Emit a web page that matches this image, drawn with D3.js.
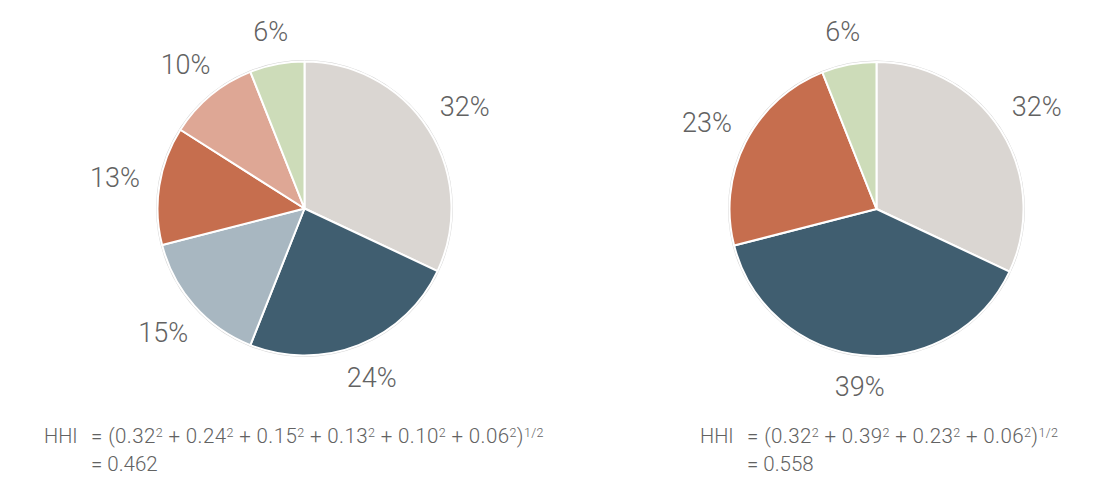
<!DOCTYPE html>
<html>
<head>
<meta charset="utf-8">
<script src="https://cdn.jsdelivr.net/npm/d3@7"></script>
<style>
  html, body { margin: 0; padding: 0; background: #ffffff; }
  svg { display: block; }
  text { font-family: Roboto, "Noto Sans", sans-serif; fill: #626262; }
</style>
</head>
<body>
<svg id="chart" width="1106" height="490"></svg>
<script>
// ---- data ----
const leftCategories = ["A", "B", "C", "D", "E", "F"];
const leftValues = [0.32, 0.24, 0.15, 0.13, 0.10, 0.06];
const leftColors = ["#dad6d2", "#405e70", "#a8b7c1", "#c66e4e", "#dea795", "#cddcb9"];
const leftResult = "0.462";

const rightCategories = ["A", "B", "D", "F"];
const rightValues = [0.32, 0.39, 0.23, 0.06];
const rightColors = ["#dad6d2", "#405e70", "#c66e4e", "#cddcb9"];
const rightResult = "0.558";

const svg = d3.select("#chart");
const R = 147;

function drawPie(cx, cy, values, colors, categories, resultText, textX) {
  const g = svg.append("g").attr("transform", `translate(${cx},${cy})`);
  const pie = d3.pie().sort(null).value(d => d);
  const arcs = pie(values);
  const arc = d3.arc().innerRadius(0).outerRadius(R);

  g.append("circle").attr("r", R + 0.8).attr("fill", "none")
    .attr("stroke", "#d4d4d4").attr("stroke-width", 1.2);

  g.selectAll("path.slice").data(arcs).enter().append("path")
    .attr("class", "slice")
    .attr("d", arc)
    .attr("fill", (d, i) => colors[i])
    .attr("stroke", "#ffffff")
    .attr("stroke-width", 2)
    .attr("stroke-linejoin", "round");

  const fmt = d3.format(".0%");
  g.selectAll("text.lbl").data(arcs).enter().append("text")
    .attr("class", "lbl")
    .attr("text-anchor", "middle")
    .attr("dominant-baseline", "central")
    .style("font-size", "27px")
    .style("font-weight", 300)
    .attr("transform", d => {
      const a = (d.startAngle + d.endAngle) / 2;
      const r = 177 + 15 * Math.abs(Math.sin(a));
      return `translate(${r * Math.sin(a)},${-r * Math.cos(a)})`;
    })
    .text(d => fmt(d.data));

  // formula
  const y1 = cy + 234, y2 = y1 + 28;
  const ft = svg.append("g");
  ft.append("text").attr("x", textX).attr("y", y1)
    .style("font-size", "20px").style("font-weight", 300).text("HHI");
  const t = ft.append("text").attr("x", textX + 47).attr("y", y1)
    .style("font-size", "20.5px").style("font-weight", 300)
    .style("letter-spacing", "0.4px");
  t.append("tspan").text("= (");
  values.forEach((v, i) => {
    t.append("tspan").text(v.toFixed(2));
    t.append("tspan").attr("dy", -6).style("font-size", "12.5px").text("2");
    t.append("tspan").attr("dy", 6).text(i < values.length - 1 ? " + " : ")");
  });
  t.append("tspan").attr("dy", -6).style("font-size", "12.5px").text("1/2");
  ft.append("text").attr("x", textX + 47).attr("y", y2)
    .style("font-size", "20.5px").style("font-weight", 300).text("= " + resultText);
}

drawPie(304.5, 208.5, leftValues, leftColors, leftCategories, leftResult, 44);
drawPie(876.5, 209, rightValues, rightColors, rightCategories, rightResult, 700);
</script>
</body>
</html>
